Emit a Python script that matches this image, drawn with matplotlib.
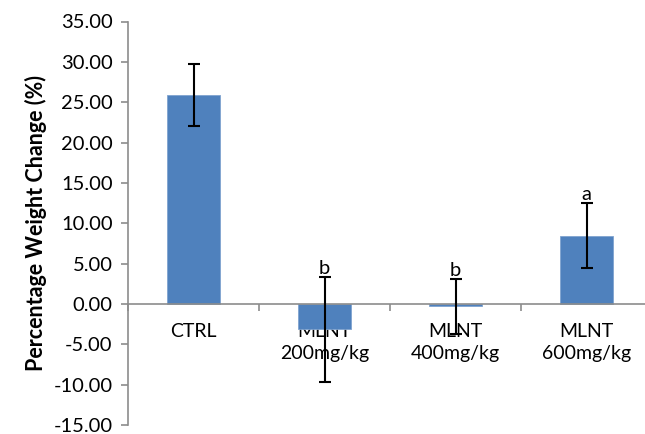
import matplotlib
matplotlib.use("Agg")
import matplotlib.pyplot as plt
import numpy as np

groups = ["CTRL", "MLNT\n200mg/kg", "MLNT\n400mg/kg", "MLNT\n600mg/kg"]
means = [25.85, -3.15, -0.3, 8.45]
errors = [3.85, 6.5, 3.45, 4.05]
letters = ["", "b", "b", "a"]

plt.rcParams['font.family'] = ['Lato', 'DejaVu Sans']

fig = plt.figure(figsize=(6.45, 4.34), dpi=100)
ax = fig.add_axes([128 / 645, 1 - 425 / 434, 524 / 645, 403.5 / 434])

x = np.arange(len(groups))
ax.bar(x, means, width=0.4, color="#4F81BD", edgecolor="#7FA3CF", linewidth=0.6, zorder=2)
ax.errorbar(x, means, yerr=errors, fmt="none", ecolor="black", elinewidth=1.5,
            capsize=4.5, capthick=1.5, zorder=3)

# significance letters above error bars
for xi, m, e, lab in zip(x, means, errors, letters):
    if lab:
        ax.annotate(lab, (xi, m + e), xytext=(0, 0), textcoords="offset points",
                    ha="center", va="bottom", fontsize=14.5)

ax.set_xlim(-0.5, 3.5)
ax.set_ylim(-15, 35)
ax.set_yticks(np.arange(-15, 36, 5))
ax.set_yticklabels([f"{v:.2f}" for v in np.arange(-15, 36, 5)])

ax.spines['top'].set_visible(False)
ax.spines['right'].set_visible(False)
ax.spines['bottom'].set_position(('data', 0))
for s in ('left', 'bottom'):
    ax.spines[s].set_color("#8C8C8C")
    ax.spines[s].set_linewidth(1.2)

ax.set_xticks(x)
ax.set_xticklabels(groups, fontsize=14, linespacing=1.3)
ax.set_xticks(np.arange(-0.5, 4, 1), minor=True)
ax.tick_params(axis='x', which='major', length=0, pad=14)
ax.tick_params(axis='x', which='minor', length=5, width=1.2, color="#8C8C8C", direction='out')
ax.tick_params(axis='y', length=5, width=1.2, color="#8C8C8C", labelsize=14.5, pad=6)

ax.set_ylabel("Percentage Weight Change (%)", fontsize=15.5, fontweight='bold', labelpad=5)

fig.savefig("out.png", dpi=100)
